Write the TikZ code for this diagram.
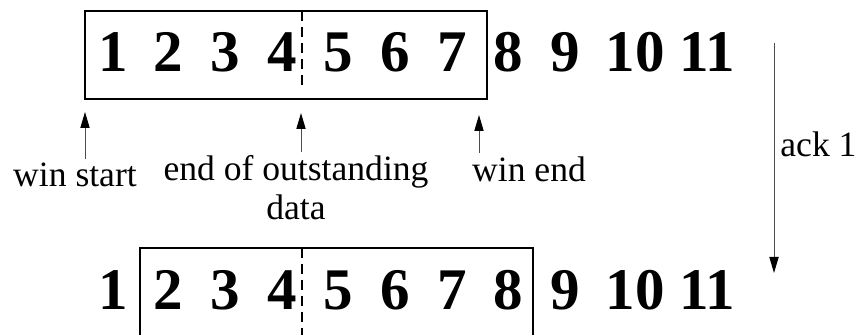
\documentclass[tikz,border=0pt]{standalone}
\usepackage{fontspec}
\setmainfont{Liberation Serif}
\usetikzlibrary{arrows.meta}

\begin{document}
\begin{tikzpicture}[
    x=0.5pt, y=-0.5pt,
    digit/.style={font=\fontsize{29.5}{35}\selectfont\bfseries, anchor=base, inner sep=0pt},
    winbox/.style={line width=1pt},
    split/.style={line width=1pt, dash pattern=on 5pt off 3pt},
    lbl/.style={font=\fontsize{17.8}{19.5}\selectfont, align=center, inner sep=2pt, anchor=base},
    ptr/.style={-{Triangle[length=8pt,width=4.6pt,color=black]}, line width=0.5pt, draw=black!70},
]
\useasboundingbox (0,0) rectangle (855,335);

% sequence numbers, before and after the ack
\foreach \n/\x in {1/113,2/168,3/225,4/282,5/338,6/395,7/452,8/508,9/565,10/635,11/707} {
    \node[digit] (top\n) at (\x,72)  {\n};
    \node[digit] (bot\n) at (\x,310) {\n};
}

% windows
\draw[winbox] (85,11) rectangle (487,99);
\draw[split] (302,11) -- (302,87);
\draw[winbox] (140,335) |- (533,248) -- (533,335);
\draw[split] (302,248) -- (302,335);

% pointers
\node[lbl] (wsLbl)  at (75,187)  {win start};
\node[lbl] (eodLbl) at (296,220) {end of outstanding\\data};
\node[lbl] (weLbl)  at (529,182) {win end};
\coordinate (wsTip)  at (85,112);
\coordinate (eodTip) at (301,113);
\coordinate (weTip)  at (479,115);
\draw[ptr] (wsLbl.north -| wsTip) -- (wsTip);
\draw[ptr] (eodLbl.north -| eodTip) -- (eodTip);
\draw[ptr] (weLbl.north -| weTip) -- (weTip);

% ack
\coordinate (ackFrom) at (774,43);
\coordinate (ackTo)   at (774,273);
\draw[ptr] (ackFrom) -- (ackTo);
\node[lbl, anchor=base west, inner sep=0pt] (ackLbl) at (780,157) {ack 1};
\end{tikzpicture}
\end{document}
